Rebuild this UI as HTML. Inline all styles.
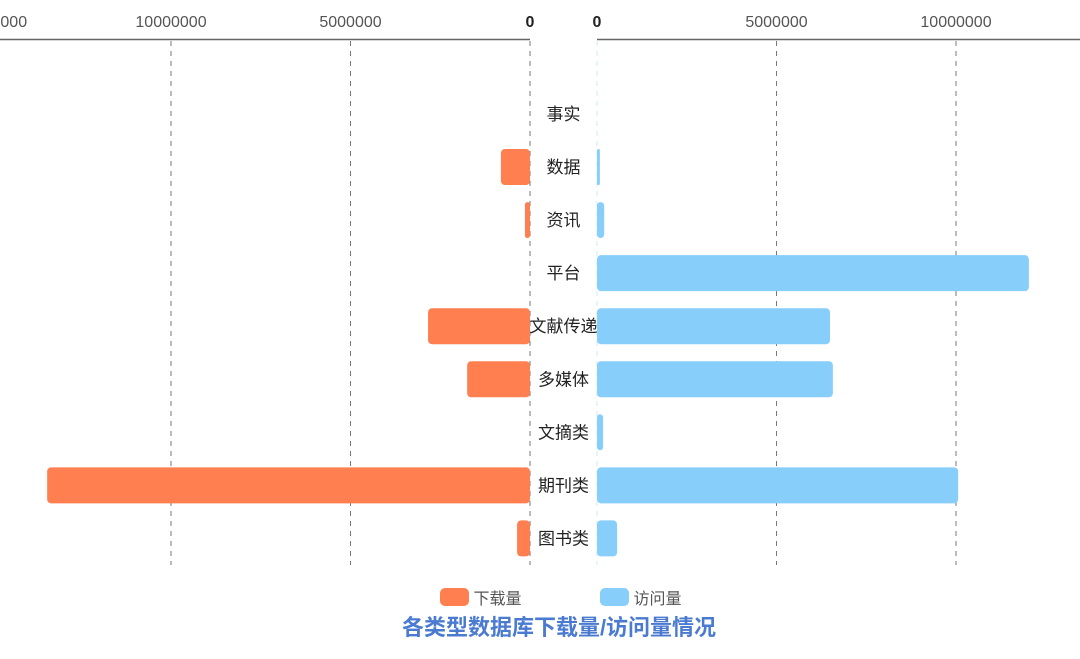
<!DOCTYPE html>
<html><head><meta charset="utf-8"><style>
body{margin:0;background:#fff;width:1080px;height:654px;overflow:hidden}
svg{font-family:"Liberation Sans","Noto Sans CJK SC",sans-serif}
</style></head><body>
<svg id="c" width="1080" height="654"></svg>
<script>
const categories=["事实","数据","资讯","平台","文献传递","多媒体","文摘类","期刊类","图书类"];
const downloads=[0,810000,140000,0,2840000,1750000,0,13450000,360000];
const visits=[0,80000,200000,12030000,6490000,6570000,170000,10060000,560000];
const ticks=[0,5000000,10000000,15000000];
const tickLabels=["0","5000000","10000000","15000000"];
const NS="http://www.w3.org/2000/svg";
const svg=document.getElementById('c');
const k=179.5/5000000;
const L0=530,R0=597;
const xl=v=>L0-v*k, xr=v=>R0+v*k;
const y0=114,step=53.05,bh=36;
const yc=i=>y0+i*step;
function mk(t,a,p){const e=document.createElementNS(NS,t);for(const q in a)e.setAttribute(q,a[q]);(p||svg).appendChild(e);return e;}
// axes lines
let e=mk('line',{x1:0,y1:39.5,x2:L0,y2:39.5,stroke:'#666','stroke-width':1.5});

e=mk('line',{x1:R0,y1:39.5,x2:1080,y2:39.5,stroke:'#666','stroke-width':1.5});

ticks.forEach((t,i)=>{
  [[xl(t),'left'],[xr(t),'right']].forEach(([x,s])=>{
    const g=mk('line',{x1:x,y1:41,x2:x,y2:565,stroke:(s=='right'&&t==0)?'#cde8fb':'#777','stroke-width':1,'stroke-dasharray':'5,5'});
    
    const tx=mk('text',{x:x,y:27,'text-anchor':'middle','font-size':16,fill:t==0?'#222':'#555','font-weight':t==0?'bold':'normal'});
    tx.textContent=tickLabels[i];
    
  });
});
categories.forEach((c,i)=>{
  const y=yc(i)-bh/2;
  if(downloads[i]>0){const w=downloads[i]*k;
    const r=mk('rect',{x:L0-w,y:y,width:w,height:bh,rx:Math.min(4,w/2),fill:'#ff7f50'});
    }
  if(visits[i]>0){const w=visits[i]*k;
    const r=mk('rect',{x:R0,y:y,width:w,height:bh,rx:Math.min(4,w/2),fill:'#87cefa'});
    }
  const t=mk('text',{x:(L0+R0)/2,y:yc(i)+6,'text-anchor':'middle','font-size':17,fill:'#222'});
  t.textContent=c;
  
});
</script>
<div style="position:absolute;top:582px;left:0;width:1080px;height:24px;font-family:'Liberation Sans','Noto Sans CJK SC',sans-serif;font-size:16px;color:#555">
 <div style="position:absolute;left:440px;top:3px"><span style="display:inline-block;width:29px;height:18px;background:#ff7f50;border-radius:5px;vertical-align:middle"></span> <span style="vertical-align:middle">下载量</span></div>
 <div style="position:absolute;left:600px;top:3px"><span style="display:inline-block;width:29px;height:18px;background:#87cefa;border-radius:5px;vertical-align:middle"></span> <span style="vertical-align:middle">访问量</span></div>
</div>
<div style="position:absolute;top:610px;left:0;width:1118px;text-align:center;font-family:'Liberation Sans','Noto Sans CJK SC',sans-serif;font-size:22px;font-weight:bold;color:#4a7bd0">各类型数据库下载量/访问量情况</div>
</body></html>
